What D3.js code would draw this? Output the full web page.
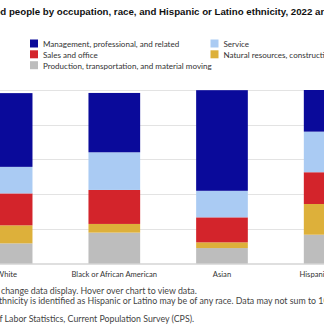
<!DOCTYPE html>
<html><head><meta charset="utf-8">
<script src="https://cdn.jsdelivr.net/npm/d3@7"></script>
<style>
html,body{margin:0;padding:0;background:#fff;overflow:hidden;}
svg{display:block;}
</style></head>
<body>
<svg id="chart" width="324" height="333"></svg>
<script>
const titleText = "Employed people by occupation, race, and Hispanic or Latino ethnicity, 2022 and 2023 annual averages";
const categories = ["White", "Black or African American", "Asian", "Hispanic or Latino"];
const seriesNames = ["Management, professional, and related", "Service", "Sales and office", "Natural resources, construction, and maintenance", "Production, transportation, and material moving"];
const management = [42.5, 34.2, 58.0, 24.0];
const service = [15.3, 21.7, 15.3, 23.4];
const salesOffice = [18.4, 19.6, 14.4, 18.3];
const naturalResources = [10.4, 5.0, 3.3, 17.7];
const production = [11.6, 17.8, 8.9, 16.6];
const yTicks = [0, 20, 40, 60, 80, 100];
const footer1 = "Click legend items to change data display. Hover over chart to view data.";
const footer2 = "Note: Persons whose ethnicity is identified as Hispanic or Latino may be of any race. Data may not sum to 100 percent due to rounding.";
const footer3 = "Source: U.S. Bureau of Labor Statistics, Current Population Survey (CPS).";

const colors = ["#0a0a9a", "#aacbf3", "#d3242b", "#ddb03a", "#bdbdbd"];
const seriesValues = [management, service, salesOffice, naturalResources, production];

const svg = d3.select("#chart");
const bodyFont = "Lato, 'Open Sans', sans-serif";

function measure(str, font, size, weight) {
  const t = svg.append("text").attr("font-family", font).attr("font-size", size)
    .attr("font-weight", weight || "normal").attr("xml:space", "preserve").text(str);
  const w = t.node().getComputedTextLength();
  t.remove();
  return w;
}

// title (cropped at both sides)
const titleFont = "'Liberation Sans', Arial, sans-serif";
const titleSize = 9.7;
svg.append("text")
  .attr("x", 0.3 - measure("Employe", titleFont, titleSize, "bold"))
  .attr("y", 15)
  .attr("font-family", titleFont).attr("font-size", titleSize).attr("font-weight", "bold")
  .attr("fill", "#111")
  .text(titleText);

// scales
const x = d3.scaleBand().domain(categories).range([-47.2, 383.5]).paddingInner(0.52).paddingOuter(0.26);
const y = d3.scaleLinear().domain([0, 100]).range([263.5, 90]);

// gridlines
svg.append("g").selectAll("line").data(yTicks.filter(d => d > 0)).join("line")
  .attr("x1", 0).attr("x2", 324)
  .attr("y1", d => Math.round(y(d)) + 0.5).attr("y2", d => Math.round(y(d)) + 0.5)
  .attr("stroke", "#e3e3e3").attr("stroke-width", 1);

// stacked bars
const rows = categories.map((c, i) => {
  const r = { category: c };
  seriesNames.forEach((s, k) => { r[s] = seriesValues[k][i]; });
  return r;
});
const stackOrder = seriesNames.slice().reverse(); // production at bottom
const stacked = d3.stack().keys(stackOrder)(rows);
svg.append("g").selectAll("g").data(stacked).join("g")
  .attr("fill", d => colors[seriesNames.indexOf(d.key)])
  .selectAll("rect").data(d => d).join("rect")
  .attr("x", d => x(d.data.category))
  .attr("width", x.bandwidth())
  .attr("y", d => y(d[1]))
  .attr("height", d => y(d[0]) - y(d[1]));

// x axis
const xAxis = svg.append("g").attr("transform", `translate(0,${y(0)})`)
  .call(d3.axisBottom(x).tickSize(0).tickPadding(8));
xAxis.select(".domain").attr("d", "M0,0.5H324").attr("stroke", "#bfbfbf").attr("stroke-width", 1);
xAxis.selectAll("text").attr("font-family", bodyFont).attr("font-size", 7.6).attr("fill", "#333");

// legend
const legendItems = [
  { name: seriesNames[0], col: 0, row: 0 },
  { name: seriesNames[1], col: 1, row: 0 },
  { name: seriesNames[2], col: 0, row: 1 },
  { name: seriesNames[3], col: 1, row: 1 },
  { name: seriesNames[4], col: 0, row: 2 }
];
const legendX = [30, 210.5];
const legendY = [39.5, 50.3, 61.2];
const lg = svg.append("g").selectAll("g").data(legendItems).join("g")
  .attr("transform", d => `translate(${legendX[d.col]},${legendY[d.row]})`);
lg.append("rect").attr("width", 8).attr("height", 8)
  .attr("fill", d => colors[seriesNames.indexOf(d.name)]);
lg.append("text").attr("x", 13).attr("y", 7.3)
  .attr("font-family", bodyFont).attr("font-size", 8.05).attr("fill", "#333")
  .text(d => d.name);

// footer
const footSize = 8.8;
[[footer1, "Click legend items to ", 1, 294], [footer2, "Note: Persons whose e", -1, 303.5], [footer3, "Source: U.S. Bureau o", -0.5, 322]]
  .forEach(([txt, prefix, tx, ty]) => {
    svg.append("text")
      .attr("x", tx - measure(prefix, bodyFont, footSize))
      .attr("y", ty)
      .attr("font-family", bodyFont).attr("font-size", footSize).attr("fill", "#444")
      .attr("xml:space", "preserve")
      .text(txt);
  });
</script>
</body></html>
